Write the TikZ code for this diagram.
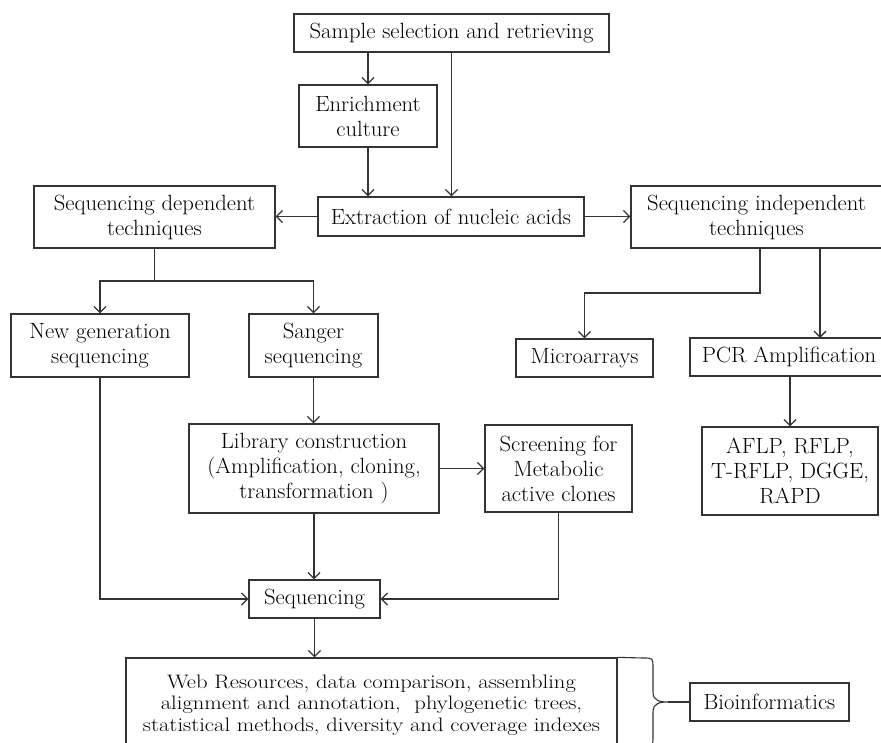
\documentclass[tikz,border=0pt]{standalone}
\usepackage{fontspec}
\setmainfont{Latin Modern Roman}[FakeStretch=1.03]
\newfontfamily\webfont{Latin Modern Roman}[FakeStretch=1.16]
\usetikzlibrary{arrows.meta}
\begin{document}
\begin{tikzpicture}[x=1pt,y=-1pt,
  box/.style={draw=black!80, line width=1.3pt, inner sep=0pt, align=center,
    font=\fontsize{22}{25}\selectfont},
  arr/.style={draw=black!80, line width=1.3pt, -{Straight Barb[length=6pt,width=12pt,line width=1.3pt]}},
  ln/.style={draw=black!80, line width=1.3pt}]
\useasboundingbox (0,0) rectangle (881,743);
\clip (0,0) rectangle (881,743);
\fill[white] (0,0) rectangle (881,743);

\node[box, minimum width=315pt, minimum height=38pt] (sample) at (451.5,33) {Sample selection and retrieving};
\node[box, minimum width=138pt, minimum height=62pt] (enrich) at (368,116) {Enrichment\\culture};
\node[box, minimum width=266pt, minimum height=39pt] (extract) at (451,216.5) {Extraction of nucleic acids};
\node[box, minimum width=241pt, minimum height=62pt] (sdep) at (154.5,217) {Sequencing dependent\\techniques};
\node[box, minimum width=251pt, minimum height=62pt] (sindep) at (756.5,217) {Sequencing independent\\techniques};
\node[box, minimum width=178pt, minimum height=63pt] (ngs) at (100,345.5) {New generation\\sequencing};
\node[box, minimum width=129pt, minimum height=63pt] (sanger) at (313.5,345.5) {Sanger\\sequencing};
\node[box, minimum width=137pt, minimum height=38pt] (micro) at (584.5,358) {Microarrays};
\node[box, minimum width=198pt, minimum height=38pt] (pcr) at (789,357) {PCR Amplification};
\node[box, minimum width=176pt, minimum height=88pt] (aflp) at (790,471) {AFLP, RFLP,\\T-RFLP, DGGE,\\RAPD};
\node[box, minimum width=250pt, minimum height=89pt] (lib) at (314,468.5) {Library construction\\(Amplification, cloning,\\transformation )};
\node[box, minimum width=147pt, minimum height=87pt] (screen) at (558.5,468.5) {Screening for\\Metabolic\\active clones};
\node[box, minimum width=131pt, minimum height=38pt] (seq) at (314.5,599) {Sequencing};
\node[box, minimum width=491pt, minimum height=94pt, font=\webfont\fontsize{19.5}{21.5}\selectfont] (web) at (371.5,705) {Web Resources, data comparison, assembling\\alignment and annotation,\ \ phylogenetic trees,\\statistical methods, diversity and coverage indexes};
\node[box, minimum width=159pt, minimum height=38pt] (bio) at (769.5,702) {Bioinformatics};

\coordinate (j1) at (154.5,281);
\coordinate (j2) at (760,293);
\coordinate (j3) at (820,338);

\draw[arr] (enrich.north |- sample.south) -- (enrich.north);
\draw[arr] (sample.south) -- (sample.south |- extract.north);
\draw[arr] (enrich.south) -- (enrich.south |- extract.north);
\draw[arr] (extract.west) -- (sdep.east |- extract.west);
\draw[arr] (extract.east) -- (sindep.west |- extract.east);
\draw[ln] (sdep.south) -- (j1);
\draw[arr] (j1) -| (ngs.north);
\draw[arr] (j1) -| (sanger.north);
\draw[arr] (sindep.south -| j2) -- (j2) -| (micro.north);
\draw[arr] (sindep.south -| j3) -- (j3);
\draw[arr] (pcr.south -| aflp.north) -- (aflp.north);
\draw[arr] (sanger.south) -- (sanger.south |- lib.north);
\draw[arr] (lib.east |- screen.west) -- (screen.west);
\draw[arr] (lib.south) -- (lib.south |- seq.north);
\draw[arr] (ngs.south) |- (seq.west);
\draw[arr] (screen.south) |- (seq.east);
\draw[arr] (seq.south) -- (seq.south |- web.north);

\coordinate (bt) at (668,702);
\draw[ln, line width=1.1pt] (web.north east) -- (643,658) .. controls (653,658) .. (653,668) -- (653,692)
  .. controls (653,701) and (660,702) .. (bt)
  .. controls (660,702) and (653,703) .. (653,712) -- (653,736) .. controls (653,746) .. (643,746) -- (617,746);
\draw[ln, line width=1.1pt] (bt) -- (bio.west);
\end{tikzpicture}
\end{document}
